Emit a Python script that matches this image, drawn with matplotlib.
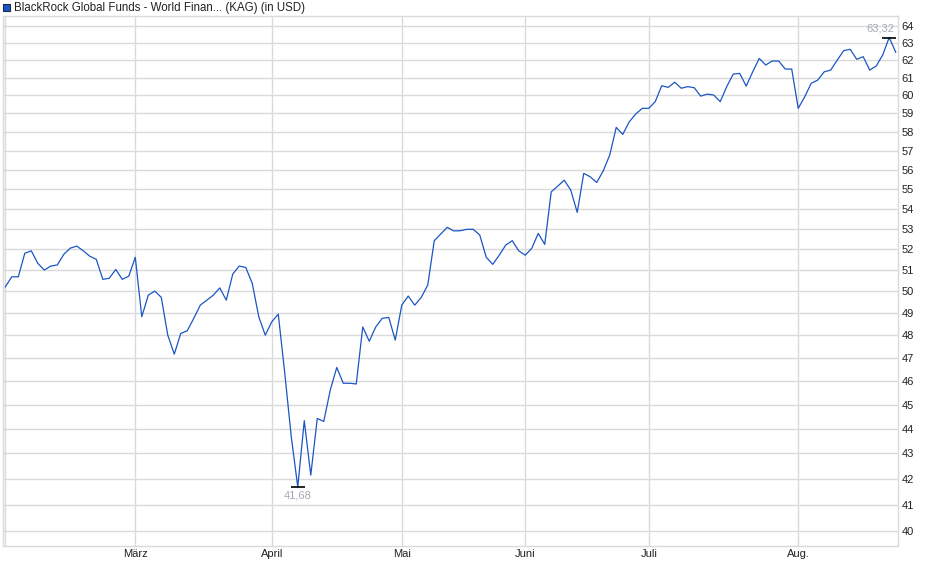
import matplotlib.pyplot as plt
import matplotlib.ticker as mticker
from matplotlib.patches import Rectangle

plt.rcParams['font.family'] = ['Liberation Sans', 'DejaVu Sans']

# fund price (USD), one value per trading day, grouped by month
feb = [50.21, 50.68, 50.68, 51.80, 51.92, 51.32, 51.00, 51.19, 51.24, 51.75,
       52.05, 52.15, 51.92, 51.66, 51.51, 50.56, 50.61, 51.03, 50.56, 50.71]
mar = [51.61, 48.83, 49.82, 50.01, 49.72, 48.00, 47.16, 48.08, 48.20, 48.76,
       49.36, 49.59, 49.82, 50.16, 49.59, 50.81, 51.19, 51.12, 50.37, 48.83, 48.00]
apr = [48.60, 48.95, 46.33, 43.67, 41.68, 44.33, 42.14, 44.42, 44.30, 45.61,
       46.58, 45.90, 45.90, 45.87, 48.37, 47.73, 48.37, 48.76, 48.80, 47.78]
may = [49.36, 49.78, 49.36, 49.72, 50.29, 52.41, 52.74, 53.07, 52.89, 52.90,
       52.97, 52.97, 52.69, 51.61, 51.27, 51.71, 52.20, 52.41, 51.92]
jun = [51.71, 52.04, 52.77, 52.23, 54.85, 55.14, 55.45, 54.94, 53.81, 55.80,
       55.62, 55.33, 55.93, 56.76, 58.24, 57.86, 58.54, 58.97, 59.28]
jul = [59.28, 59.65, 60.54, 60.45, 60.74, 60.40, 60.49, 60.43, 59.96, 60.07,
       60.02, 59.65, 60.49, 61.20, 61.24, 60.52, 61.33, 62.10, 61.72, 61.95,
       61.95, 61.49, 61.49]
aug = [59.28, 59.92, 60.68, 60.86, 61.33, 61.43, 62.00, 62.55, 62.63, 62.05,
       62.20, 61.43, 61.66, 62.30, 63.32, 62.46]

months = [feb, mar, apr, may, jun, jul, aug]
month_labels = ["", "März", "April", "Mai", "Juni", "Juli", "Aug."]
y_ticks = list(range(40, 65))
title = "BlackRock Global Funds - World Finan... (KAG) (in USD)"

values = [v for m in months for v in m]
x = list(range(len(values)))
month_starts = []
pos = 0
for m in months:
    month_starts.append(pos)
    pos += len(m)

W, H = 940, 579
fig = plt.figure(figsize=(W / 100, H / 100), dpi=100)
ax = fig.add_axes([2.7 / W, 1 - 546 / H, (898.3 - 2.7) / W, (546 - 16) / H])

grid_c = "#dadada"
line_c = "#1a56c4"

ax.plot(x, values, color=line_c, lw=0.9, zorder=3)

ax.set_yscale("log")
ax.set_ylim(39.45, 64.6)
ax.set_xlim(-0.4, len(values) - 0.6)

ax.yaxis.set_major_locator(mticker.FixedLocator(y_ticks))
ax.yaxis.set_minor_locator(mticker.NullLocator())
ax.yaxis.set_major_formatter(mticker.FuncFormatter(lambda v, p: f"{v:.0f}"))
ax.yaxis.tick_right()
ax.set_xticks(month_starts)
ax.set_xticklabels(month_labels)

ax.grid(True, color=grid_c, lw=1.0)
ax.set_axisbelow(True)
for s in ax.spines.values():
    s.set_color(grid_c)
    s.set_linewidth(1.0)
ax.tick_params(axis="both", colors=grid_c, labelcolor="#222222", labelsize=8, length=0)
ax.tick_params(axis="y", pad=2.5)
ax.tick_params(axis="x", pad=2)

# high / low markers
i_max = max(x, key=lambda i: values[i])
i_min = min(x, key=lambda i: values[i])
for i in (i_max, i_min):
    ax.plot(i, values[i], marker="_", ms=10, mew=1.2, color="black", zorder=4)
ax.annotate(f"{values[i_max]:.2f}".replace(".", ","), (i_max, values[i_max]),
            xytext=(4, 3), textcoords="offset points", ha="right", va="bottom",
            fontsize=8, color="#a3a9b5")
ax.annotate(f"{values[i_min]:.2f}".replace(".", ","), (i_min, values[i_min]),
            xytext=(0, -2.5), textcoords="offset points", ha="center", va="top",
            fontsize=8, color="#a3a9b5")

# header legend
fig.patches.append(Rectangle((3 / W, 1 - 11 / H), 7 / W, 7 / H, transform=fig.transFigure,
                             facecolor=line_c, edgecolor="#1b2a4a", lw=0.8))
fig.text(14 / W, 1 - 7.5 / H, title, fontsize=8.3, color="#222222", va="center", ha="left")

fig.savefig("out.png", dpi=100)
